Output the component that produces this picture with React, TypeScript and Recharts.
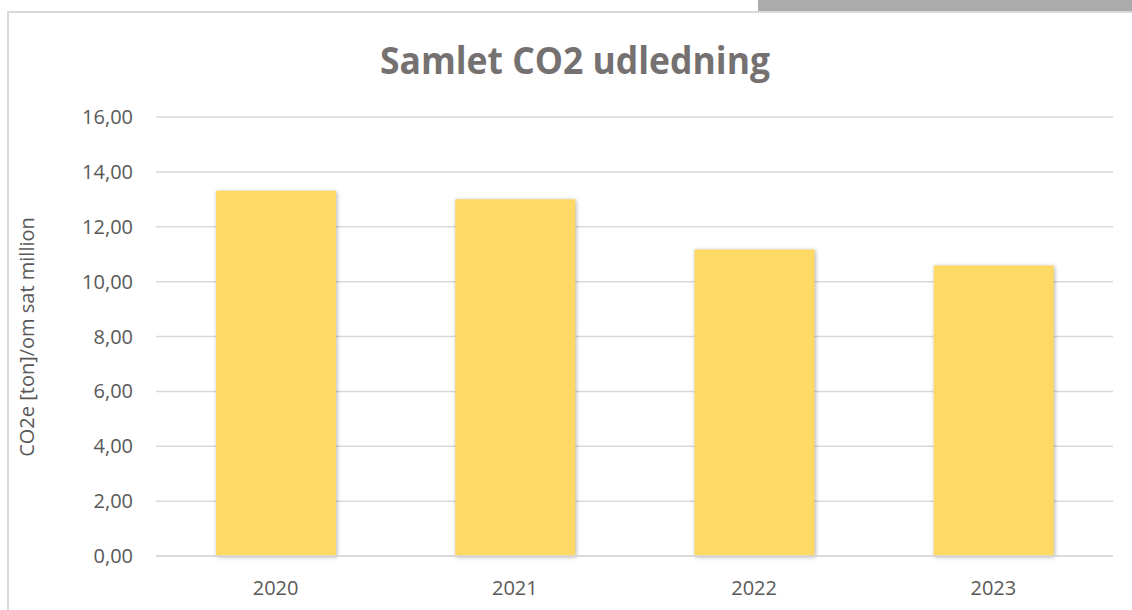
import React from 'react';
import { BarChart, Bar, XAxis, YAxis, CartesianGrid } from 'recharts';

const years = ['2020', '2021', '2022', '2023'];
const emissions = [13.31, 13.0, 11.17, 10.59];
const yTicks = [0, 2, 4, 6, 8, 10, 12, 14, 16];

const data = years.map((year, i) => ({ year, co2: emissions[i] }));

const fmt = (v: number) => v.toFixed(2).replace('.', ',');

const FONT = '"Open Sans", Calibri, sans-serif';

const App: React.FC = () => {
  return (
    <div style={{ position: 'absolute', left: 0, top: 0, width: 1132, height: 610, overflow: 'hidden', background: '#fff' }}>
      <div style={{ position: 'absolute', left: 758, top: 0, width: 374, height: 11, background: '#ababab' }} />
      <div
        style={{
          position: 'absolute',
          left: 7,
          top: 11,
          width: 1140,
          height: 620,
          border: '2px solid #d9d9d9',
          boxSizing: 'border-box'
        }}
      />
      <div style={{ position: 'absolute', left: 0, top: 0 }}>
        <BarChart
          width={1132}
          height={610}
          data={data}
          margin={{ top: 117, right: 19, bottom: 24, left: 56 }}
          barSize={120}
        >
          <CartesianGrid vertical={false} stroke="#d9d9d9" strokeWidth={1.5} />
          <XAxis
            dataKey="year"
            axisLine={{ stroke: '#d9d9d9', strokeWidth: 1.5 }}
            tickLine={false}
            height={30}
            tickMargin={19}
            tick={{ fill: '#595959', fontSize: 20, fontFamily: FONT }}
          />
          <YAxis
            width={100}
            domain={[0, 16]}
            ticks={yTicks}
            tickFormatter={fmt}
            axisLine={false}
            tickLine={false}
            tickMargin={17}
            tick={{ fill: '#595959', fontSize: 20, fontFamily: FONT }}
          />
          <Bar
            dataKey="co2"
            fill="#FFD966"
            isAnimationActive={false}
            style={{ filter: 'drop-shadow(1px 1px 2px rgba(0,0,0,0.3))' }}
          />
        </BarChart>
      </div>
      <svg width={1132} height={610} style={{ position: 'absolute', left: 0, top: 0, pointerEvents: 'none' }}>
        <text
          x={575}
          y={74}
          textAnchor="middle"
          fontFamily={FONT}
          fontWeight={700}
          fontSize={37}
          fill="#757171"
          textLength={390}
          lengthAdjust="spacingAndGlyphs"
        >
          Samlet CO2 udledning
        </text>
        <text
          x={34}
          y={337}
          textAnchor="middle"
          fontFamily={FONT}
          fontSize={20}
          fill="#595959"
          transform="rotate(-90 34 337)"
        >
          CO2e [ton]/om sat million
        </text>
      </svg>
    </div>
  );
};

export default App;
